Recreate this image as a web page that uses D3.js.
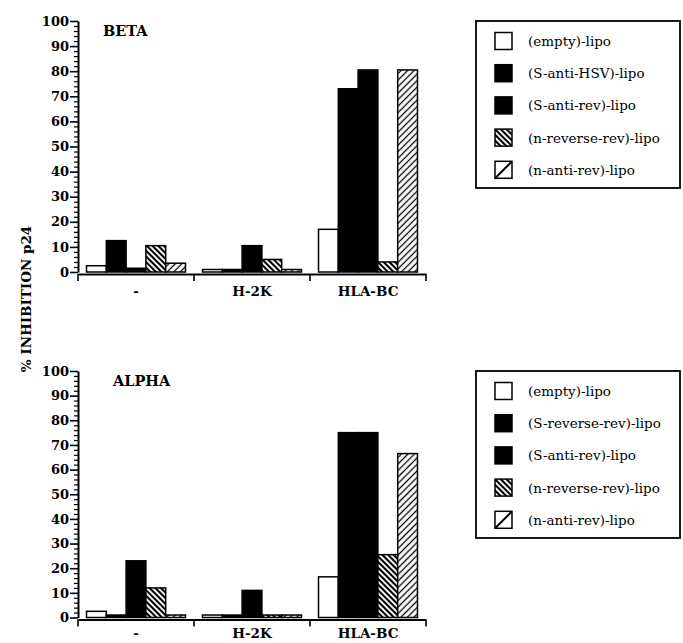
<!DOCTYPE html>
<html>
<head>
<meta charset="utf-8">
<script src="https://cdn.jsdelivr.net/npm/d3@7"></script>
<style>
  body { margin: 0; background: #fff; }
  svg text { font-family: "DejaVu Serif", "Liberation Serif", serif; }
</style>
</head>
<body>
<div id="app"></div>
<script>
// Data
const groups = ["-", "H-2K", "HLA-BC"];
const yTicks = [0, 10, 20, 30, 40, 50, 60, 70, 80, 90, 100];

const betaSeries = ["(empty)-lipo", "(S-anti-HSV)-lipo", "(S-anti-rev)-lipo", "(n-reverse-rev)-lipo", "(n-anti-rev)-lipo"];
const alphaSeries = ["(empty)-lipo", "(S-reverse-rev)-lipo", "(S-anti-rev)-lipo", "(n-reverse-rev)-lipo", "(n-anti-rev)-lipo"];

// one row per group, one value per series
const betaValues = [
  [2.5, 12.5, 1.5, 10.5, 3.5],
  [1, 1, 10.5, 5, 1],
  [17, 73, 80.5, 4, 80.5]
];
const alphaValues = [
  [2.5, 1, 23, 12, 1],
  [1, 1, 11, 1, 1],
  [16.5, 75, 75, 25.5, 66.5]
];

const width = 683;
const height = 643;
const fills = ["#fff", "#000", "#000", "url(#hatchRev)", "url(#hatchAnti)"];
const legendFills = ["#fff", "#000", "#000", "url(#hatchRev)", "url(#hatchAntiLeg)"];

const svg = d3.select("#app")
  .append("svg")
  .attr("width", width)
  .attr("height", height);

svg.append("rect").attr("width", width).attr("height", height).attr("fill", "#fff");

// hatch patterns
const defs = svg.append("defs");
function hatch(id, size, lw, angle) {
  const p = defs.append("pattern")
    .attr("id", id)
    .attr("patternUnits", "userSpaceOnUse")
    .attr("width", size)
    .attr("height", size)
    .attr("patternTransform", `rotate(${angle})`);
  p.append("rect").attr("width", size).attr("height", size).attr("fill", "#fff");
  p.append("line")
    .attr("x1", size / 2).attr("x2", size / 2)
    .attr("y1", 0).attr("y2", size)
    .attr("stroke", "#000")
    .attr("stroke-width", lw);
}
hatch("hatchRev", 4, 2.1, -45);
hatch("hatchAnti", 4.6, 1.3, 45);
hatch("hatchAntiLeg", 12, 2, 45);

// y axis title shared by both panels
svg.append("text")
  .attr("transform", "translate(31, 299) rotate(-90)")
  .attr("text-anchor", "middle")
  .style("font-size", "13.5px")
  .style("font-weight", "bold")
  .text("% INHIBITION p24");

function drawPanel(cfg) {
  const g = svg.append("g");

  const y = d3.scaleLinear().domain([0, 100]).range([cfg.y0, cfg.y100]);
  const x0 = d3.scaleBand().domain(groups).range([78, 426]).padding(0);
  const x1 = d3.scaleBand()
    .domain(cfg.series)
    .range([0, x0.bandwidth()])
    .paddingInner(0)
    .paddingOuter(0.43);

  // minor y ticks
  g.append("g")
    .attr("transform", "translate(78,0)")
    .call(d3.axisLeft(y)
      .tickValues(d3.range(0, 101, 2).filter((v) => v % 10 !== 0))
      .tickSize(4)
      .tickFormat(""))
    .call((a) => a.select(".domain").remove())
    .call((a) => a.selectAll("line").attr("stroke-width", 1.2));

  // major y ticks
  g.append("g")
    .attr("transform", "translate(78,0)")
    .call(d3.axisLeft(y).tickValues(yTicks).tickSize(8).tickPadding(1).tickSizeOuter(0))
    .call((a) => a.select(".domain").attr("stroke-width", 2))
    .call((a) => a.selectAll("line").attr("stroke-width", 1.6))
    .call((a) => a.selectAll("text")
      .style("font-size", "13px")
      .style("font-weight", "bold"));

  // bars
  const bars = g.append("g");
  groups.forEach((grp, gi) => {
    bars.selectAll(null)
      .data(cfg.values[gi])
      .enter()
      .append("rect")
      .attr("x", (d, i) => x0(grp) + x1(cfg.series[i]))
      .attr("y", (d) => y(d))
      .attr("width", x1.bandwidth())
      .attr("height", (d) => y(0) - y(d))
      .attr("fill", (d, i) => fills[i])
      .attr("stroke", "#000")
      .attr("stroke-width", 1.5);
  });

  // x axis: labels at band centres, ticks at band edges
  const axisY = y(0) + 2;
  const xa = g.append("g")
    .attr("transform", `translate(0,${axisY})`)
    .call(d3.axisBottom(x0).tickSize(0).tickPadding(cfg.labelPad).tickSizeOuter(0))
    .call((a) => a.select(".domain").attr("stroke-width", 2.2))
    .call((a) => a.selectAll("text")
      .style("font-size", "13.5px")
      .style("font-weight", "bold"));

  const edges = [x0.range()[0]].concat(groups.map((d) => x0(d) + x0.bandwidth()));
  xa.selectAll(".edge")
    .data(edges)
    .enter()
    .append("line")
    .attr("class", "edge")
    .attr("x1", (d) => d)
    .attr("x2", (d) => d)
    .attr("y1", 0)
    .attr("y2", 7)
    .attr("stroke", "#000")
    .attr("stroke-width", 1.6);

  // panel title
  g.append("text")
    .attr("x", cfg.titleX)
    .attr("y", cfg.titleY)
    .style("font-size", cfg.titleSize)
    .style("font-weight", "bold")
    .text(cfg.title);

  // legend
  const lg = g.append("g").attr("transform", `translate(${cfg.legX},${cfg.legY})`);
  lg.append("rect")
    .attr("width", 204)
    .attr("height", 167)
    .attr("fill", "none")
    .attr("stroke", "#000")
    .attr("stroke-width", 1.8);

  const rows = lg.selectAll(".row")
    .data(cfg.series)
    .enter()
    .append("g")
    .attr("class", "row")
    .attr("transform", (d, i) => `translate(19,${20 + i * 32.2})`);

  rows.append("rect")
    .attr("y", -8.5)
    .attr("width", 17)
    .attr("height", 17)
    .attr("fill", (d, i) => legendFills[i])
    .attr("stroke", "#000")
    .attr("stroke-width", 1.5);

  rows.append("text")
    .attr("x", 33)
    .attr("y", 5)
    .style("font-size", "13.5px")
    .text((d) => d);
}

drawPanel({
  title: "BETA",
  titleX: 103,
  titleY: 36,
  titleSize: "14.5px",
  series: betaSeries,
  values: betaValues,
  y0: 272,
  y100: 21,
  legX: 476,
  legY: 21,
  labelPad: 12
});

drawPanel({
  title: "ALPHA",
  titleX: 113,
  titleY: 386,
  titleSize: "14.5px",
  series: alphaSeries,
  values: alphaValues,
  y0: 617.5,
  y100: 371,
  legX: 476,
  legY: 371,
  labelPad: 9
});
</script>
</body>
</html>
